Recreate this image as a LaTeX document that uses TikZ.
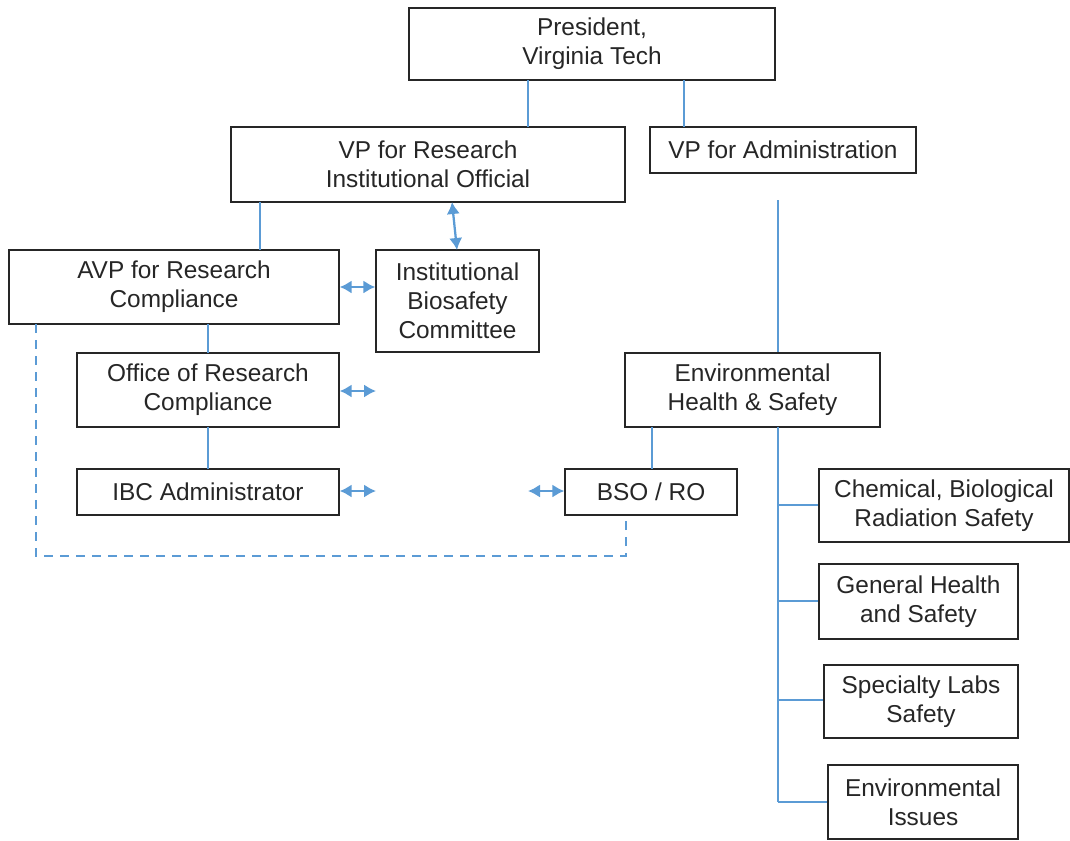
\documentclass[tikz,border=0pt]{standalone}
\usepackage{fontspec}
\setmainfont{Liberation Sans}
\usetikzlibrary{arrows.meta}
\definecolor{lnblue}{HTML}{5B9BD5}
\definecolor{txt}{HTML}{262626}
\newcommand{\bx}[6]{%
  \node[box, minimum width={(#4-#2)*0.75pt}, minimum height={(#5-#3)*0.75pt}]
    (#1) at ({(#2+#4)/2},{(#3+#5)/2}) {#6};}
\begin{document}
\begin{tikzpicture}[x=0.75pt,y=-0.75pt,
  box/.style={draw=black!85, line width=1pt, rectangle, inner sep=0pt, align=center,
    text=txt, font=\fontsize{18.3}{21.8}\selectfont},
  conn/.style={draw=lnblue, line width=1.7pt},
  dbl/.style={conn, {Latex[length=9pt,width=10pt]}-{Latex[length=9pt,width=10pt]}},
  dashline/.style={conn, dash pattern=on 7pt off 5pt}]
\useasboundingbox (0,0) rectangle (1070,840);
\bx{pres}{409}{8}{775}{80}{President,\\Virginia Tech}
\bx{vpr}{231}{127}{625}{202}{VP for Research\\Institutional Official}
\bx{vpa}{650}{127}{916}{173}{VP for Administration}
\bx{avp}{9}{250}{339}{324}{AVP for Research\\Compliance}
\bx{ibc}{376}{250}{539}{352}{Institutional\\Biosafety\\Committee}
\bx{orc}{77}{353}{339}{427}{Office of Research\\Compliance}
\bx{adm}{77}{469}{339}{515}{IBC Administrator}
\bx{ehs}{625}{353}{880}{427}{Environmental\\Health \& Safety}
\bx{bso}{565}{469}{737}{515}{BSO / RO}
\bx{cbr}{819}{469}{1069}{542}{Chemical, Biological\\Radiation Safety}
\bx{ghs}{819}{564}{1018}{639}{General Health\\and Safety}
\bx{sls}{824}{665}{1018}{738}{Specialty Labs\\Safety}
\bx{env}{828}{765}{1018}{839}{Environmental\\Issues}
% coordinates
\coordinate (va1) at (778,200);
\coordinate (ehsb) at (778,427);
\coordinate (bend) at (778,802);
\coordinate (orcR) at (376,391);
\coordinate (admR) at (376,491);
\coordinate (bsoL) at (528,491);
\coordinate (dA) at (36,556);
\coordinate (dB) at (626,556);
% solid connectors
\draw[conn] (528,80) -- (528,127);
\draw[conn] (684,80) -- (684,127);
\draw[conn] (va1) -- (ehs.north -| va1);
\draw[conn] (ehsb) -- (bend);
\draw[conn] (778,505) -- (cbr.west |- 0,505);
\draw[conn] (778,601) -- (ghs.west |- 0,601);
\draw[conn] (778,700) -- (sls.west |- 0,700);
\draw[conn] (bend) -- (env.west |- bend);
\draw[conn] (260,202) -- (260,250);
\draw[conn] (208,324) -- (208,353);
\draw[conn] (208,427) -- (208,469);
\draw[conn] (652,427) -- (652,469);
% double arrows
\draw[dbl] (452,202) -- (457,250);
\draw[dbl] (avp.east |- 0,287) -- (ibc.west |- 0,287);
\draw[dbl] (orc.east |- orcR) -- (orcR);
\draw[dbl] (adm.east |- admR) -- (admR);
\draw[dbl] (bsoL) -- (bso.west |- bsoL);
% dashed
\draw[dashline] (36,324) -- (dA) -- (dB) -- (626,515);
\end{tikzpicture}
\end{document}
